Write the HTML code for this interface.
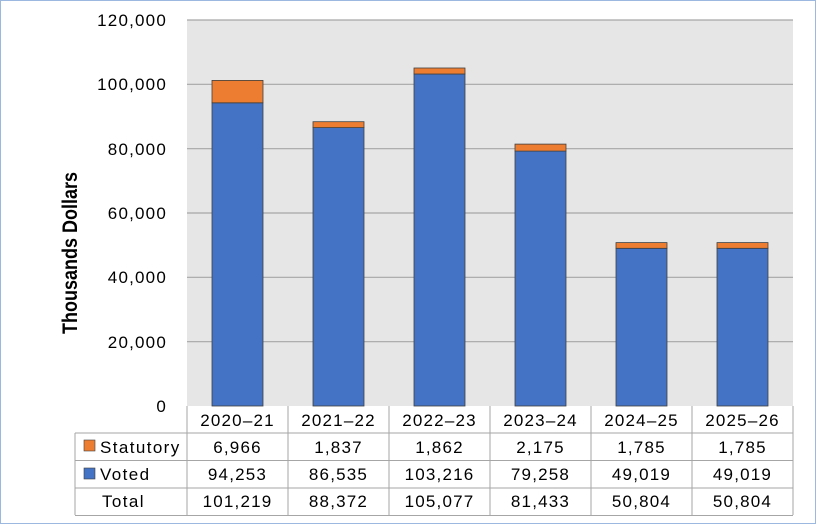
<!DOCTYPE html><html><head><style>body{margin:0;background:#fff}svg{display:block}</style></head><body>
<svg width="817" height="525" xmlns="http://www.w3.org/2000/svg" font-family="Liberation Sans, sans-serif">
<rect x="0.5" y="0.5" width="815" height="523" fill="#fff" stroke="#9db8e0"/>
<rect x="187" y="20" width="606" height="386" fill="#e6e6e6"/>
<g stroke="#a6a6a6" stroke-width="1.2">
<line x1="187" x2="793" y1="20" y2="20"/><line x1="187" x2="793" y1="84.3" y2="84.3"/><line x1="187" x2="793" y1="148.7" y2="148.7"/><line x1="187" x2="793" y1="213" y2="213"/><line x1="187" x2="793" y1="277.3" y2="277.3"/><line x1="187" x2="793" y1="341.7" y2="341.7"/>
</g>
<g stroke="#404040" stroke-width="0.8">
<rect x="212" y="102.8" width="51" height="303.2" fill="#4472c4"/><rect x="212" y="80.4" width="51" height="22.4" fill="#ed7d31"/>
<rect x="313" y="127.6" width="51" height="278.4" fill="#4472c4"/><rect x="313" y="121.7" width="51" height="5.9" fill="#ed7d31"/>
<rect x="414" y="74" width="51" height="332" fill="#4472c4"/><rect x="414" y="68" width="51" height="6" fill="#ed7d31"/>
<rect x="515" y="151.1" width="51" height="254.9" fill="#4472c4"/><rect x="515" y="144.1" width="51" height="7" fill="#ed7d31"/>
<rect x="616" y="248.3" width="51" height="157.7" fill="#4472c4"/><rect x="616" y="242.6" width="51" height="5.7" fill="#ed7d31"/>
<rect x="717" y="248.3" width="51" height="157.7" fill="#4472c4"/><rect x="717" y="242.6" width="51" height="5.7" fill="#ed7d31"/>
</g>
<g font-size="17" fill="#000" text-anchor="end" letter-spacing="1.2">
<text x="167" y="26">120,000</text><text x="167" y="90">100,000</text><text x="167" y="155">80,000</text><text x="167" y="219">60,000</text><text x="167" y="283">40,000</text><text x="167" y="348">20,000</text><text x="167" y="412">0</text>
</g>
<text transform="translate(77,253) rotate(-90)" font-size="21" font-weight="bold" text-anchor="middle" textLength="162" lengthAdjust="spacingAndGlyphs">Thousands Dollars</text>
<g stroke="#a6a6a6" stroke-width="1" fill="none">
<line x1="187" x2="187" y1="406" y2="515"/>
<line x1="288" x2="288" y1="406" y2="515"/><line x1="389" x2="389" y1="406" y2="515"/><line x1="490" x2="490" y1="406" y2="515"/><line x1="591" x2="591" y1="406" y2="515"/><line x1="692" x2="692" y1="406" y2="515"/><line x1="793" x2="793" y1="406" y2="515"/>
<line x1="75" x2="75" y1="433" y2="515"/>
<line x1="75" x2="793" y1="433" y2="433"/><line x1="75" x2="793" y1="460.5" y2="460.5"/><line x1="75" x2="793" y1="488" y2="488"/><line x1="75" x2="793" y1="515.5" y2="515.5"/>
</g>
<rect x="84" y="440" width="11" height="11" fill="#ed7d31" stroke="#404040" stroke-width="0.6"/>
<rect x="84" y="468" width="11" height="11" fill="#4472c4" stroke="#404040" stroke-width="0.6"/>
<g font-size="17" fill="#000" letter-spacing="1.4">
<text x="100" y="453">Statutory</text><text x="100" y="480">Voted</text><text x="102" y="507">Total</text>
</g>
<g font-size="17" fill="#000" text-anchor="middle" letter-spacing="1.2">
<text x="237.5" y="426">2020–21</text><text x="338.5" y="426">2021–22</text><text x="439.5" y="426">2022–23</text><text x="540.5" y="426">2023–24</text><text x="641.5" y="426">2024–25</text><text x="742.5" y="426">2025–26</text>
<text x="237.5" y="453">6,966</text><text x="338.5" y="453">1,837</text><text x="439.5" y="453">1,862</text><text x="540.5" y="453">2,175</text><text x="641.5" y="453">1,785</text><text x="742.5" y="453">1,785</text>
<text x="237.5" y="480">94,253</text><text x="338.5" y="480">86,535</text><text x="439.5" y="480">103,216</text><text x="540.5" y="480">79,258</text><text x="641.5" y="480">49,019</text><text x="742.5" y="480">49,019</text>
<text x="237.5" y="507">101,219</text><text x="338.5" y="507">88,372</text><text x="439.5" y="507">105,077</text><text x="540.5" y="507">81,433</text><text x="641.5" y="507">50,804</text><text x="742.5" y="507">50,804</text>
</g>
</svg></body></html>
